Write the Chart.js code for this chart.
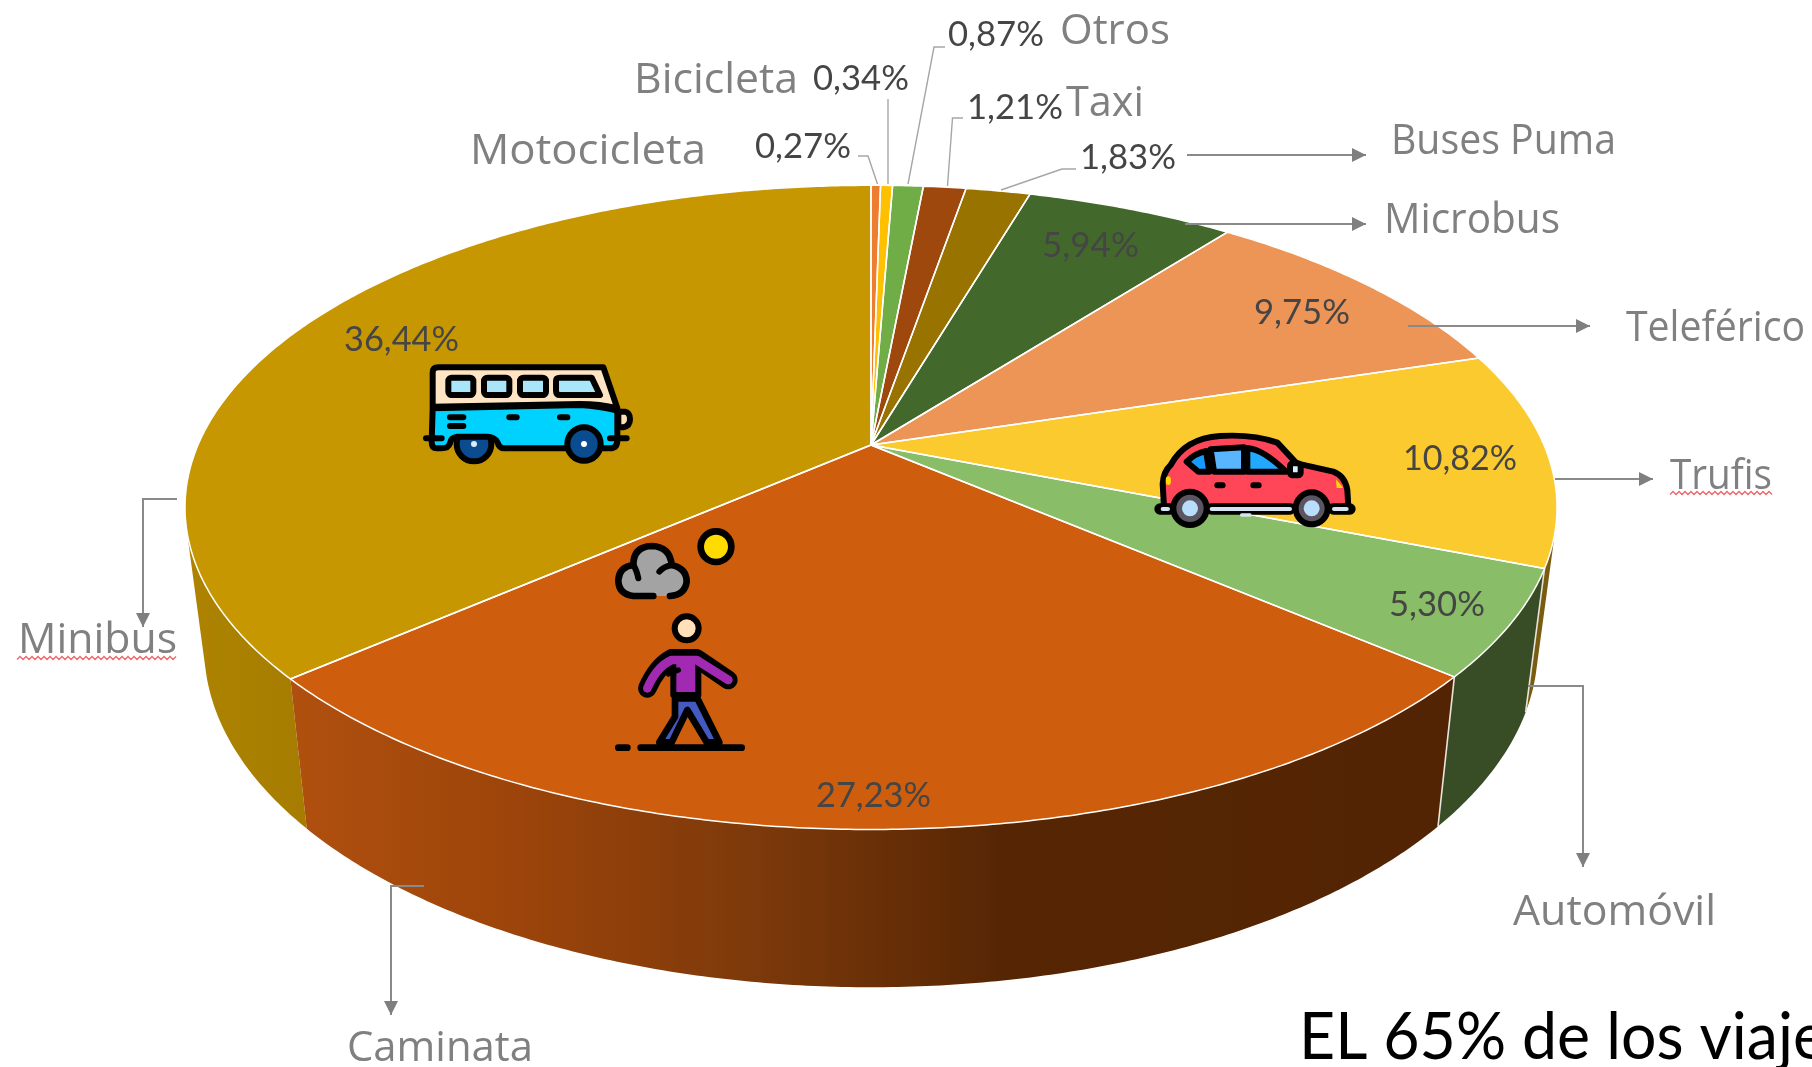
<!DOCTYPE html>
<html lang="es"><head><meta charset="utf-8"><title>Modos de transporte</title>
<script src="https://cdn.jsdelivr.net/npm/chart.js@4/dist/chart.umd.min.js"></script>
<style>
html,body{margin:0;padding:0;background:#fff;overflow:hidden;width:1812px;height:1067px}
#wrap{position:relative;width:1812px;height:1067px;overflow:hidden}
canvas{position:absolute;left:0;top:0}
svg{position:absolute;overflow:visible}
</style></head><body>
<div id="wrap">
<canvas id="c" width="1812" height="1067"></canvas>
<!-- bus -->
<svg style="left:400px;top:340px" width="280" height="140" viewBox="0 0 840 420" stroke-linejoin="round" stroke-linecap="round">
 <g stroke="#000" stroke-width="18">
  <circle cx="222" cy="312" r="52" fill="#0b4c90"/>
  <path d="M655 215H675Q690 218 690 238Q690 258 670 262H655Z" fill="#ffe1b5"/>
  <path d="M98 200V98Q98 82 115 82H610L652 205Q600 192 540 192L98 200Z" fill="#ffe5c4"/>
  <path d="M98 205L540 195Q600 198 652 212V300Q652 325 630 325H312Q298 325 292 306Q282 290 262 290H172Q152 292 150 310Q145 325 125 325H110Q95 325 95 305Z" fill="#00d2ff"/>
  <rect x="145" y="113" width="75" height="52" rx="10" fill="#a9e6fa"/>
  <rect x="252" y="113" width="76" height="52" rx="10" fill="#a9e6fa"/>
  <rect x="360" y="113" width="78" height="52" rx="10" fill="#a9e6fa"/>
  <path d="M468 123Q468 113 480 113H575L600 165H480Q468 165 468 152Z" fill="#a9e6fa"/>
  <circle cx="552" cy="312" r="50" fill="#0b4c90"/>
  <path d="M150 232H190M150 258H190M328 232H350M480 232H502M78 295H125M630 295H680" fill="none"/>
 </g>
 <circle cx="222" cy="312" r="9" fill="#dfeef5"/><circle cx="552" cy="312" r="9" fill="#fff"/>
</svg>
<!-- car -->
<svg style="left:1140px;top:410px" width="230" height="130" viewBox="0 0 690 390" stroke-linejoin="round" stroke-linecap="round">
 <g stroke="#000" stroke-width="18">
  <path d="M72 290L68 222Q70 185 92 165Q135 85 240 78Q340 72 412 98L470 160L580 185Q615 198 622 240L625 290Z" fill="#ff4658"/>
  <path d="M140 155Q165 130 198 123L208 185H175Z" fill="#159bff"/>
  <path d="M212 118L312 112V185H222Z" fill="#5ab5ff"/>
  <path d="M322 114Q370 118 438 185H322Z" fill="#22a8ff"/>
  <path d="M60 297H90M215 297H450M580 297H630" stroke="#000" stroke-width="34" fill="none"/>
  <circle cx="150" cy="295" r="50" fill="#5a5560"/>
  <circle cx="515" cy="295" r="48" fill="#5a5560"/>
  <rect x="450" y="160" width="32" height="36" rx="8" fill="#dcefff"/>
  <path d="M232 226H248M340 226H356" fill="none"/>
 </g>
 <path d="M215 297H450M582 297H620M68 297H84" stroke="#d6e3f0" stroke-width="12" fill="none"/>
 <path d="M305 315H330" stroke="#d6e3f0" stroke-width="10" fill="none"/>
 <circle cx="150" cy="295" r="24" fill="#b9defb"/><circle cx="515" cy="295" r="24" fill="#b9defb"/>
 <ellipse cx="85" cy="212" rx="8" ry="13" fill="#ffd800"/>
 <path d="M588 208L610 234H590Z" fill="#ffd800"/>
</svg>
<!-- walker -->
<svg style="left:590px;top:510px" width="200" height="260" viewBox="0 0 600 780" stroke-linejoin="round" stroke-linecap="round" fill="none">
 <circle cx="378" cy="110" r="46" fill="#ffdb00" stroke="#000" stroke-width="20"/>
 <path d="M190 258H130Q85 252 85 210Q88 170 130 165Q130 110 185 108Q240 110 245 165Q290 175 290 215Q285 255 240 258" fill="#a3a3a3" stroke="#000" stroke-width="20"/>
 <path d="M130 165Q140 180 145 205M245 165Q220 170 208 185" stroke="#000" stroke-width="18"/>
 <circle cx="290" cy="355" r="36" fill="#ffe0b8" stroke="#000" stroke-width="18"/>
 <path d="M255 565H322L388 697H350L292 600L245 697H208L255 620Z" fill="#4459c2" stroke="#000" stroke-width="20"/>
 <path d="M172 535Q200 470 245 445H320L415 510" stroke="#000" stroke-width="56"/>
 <path d="M250 445H325V555H250Z" fill="#a22ab3" stroke="#000" stroke-width="18"/>
 <path d="M172 535Q200 470 245 450H320L415 510" stroke="#a22ab3" stroke-width="26"/>
 <path d="M265 480L235 492" stroke="#000" stroke-width="16"/>
 <path d="M152 713H455M85 713H112" stroke="#000" stroke-width="20"/>
</svg>
</div>
<script>
// ---- data ----
const categories = ['Motocicleta','Bicicleta','Otros','Taxi','Buses Puma','Microbus','Teleférico','Trufis','Automóvil','Caminata','Minibus'];
const shares = [0.27,0.34,0.87,1.21,1.83,5.94,9.75,10.82,5.30,27.23,36.44];
const sliceColors = ['#ed7d31','#ffc000','#70ad47','#9e480e','#997300','#43682b','#ed9457','#fbca2f','#8abd67','#cf5d0e','#c69700'];
const note = 'EL 65% de los viaje';

// ---- styling of the drawing (not data) ----
const wallColors = [null,null,null,null,null,null,null,[[0,'#7a5c10']],[[0,'#384d26']],
  [[290,'#b0500f'],[520,'#9c440a'],[760,'#7c390a'],[1000,'#562604'],[1440,'#532403']],
  [[185,'#ae8300'],[300,'#a67d00']]];
const wallOrder = [0,1,2,3,4,5,6,7,8,10,9];
// name: left, baseline, width  /  value: left, baseline, width
const namePos = [[470,164,236],[634,93,164],[1060,44,110],[1066,116,78],[1391,154,225],[1384,233,176],[1626,341,179],[1670,489,102],[1513,925,203],[347,1061,186],[18,653,159]];
const valuePos = [[755,158,96],[813,90,96],[948,46,96],[967,119,96],[1080,169,96],[1042,257,97],[1254,324,96],[1403,470,114],[1389,616,96],[816,807,115],[344,351,115]];
const thinLeaders = [[[858,156],[868,156],[877.5,184]],[[888,99],[888,184]],[[945,47],[934,47],[908,184]],[[963,118],[952.5,118],[947.5,186]],[[1076,169],[1062,169],[1001,190]]];
const arrows = [[[1187,155],[1366,155]],[[1185,224],[1366,224]],[[1408,326],[1590,326]],[[1555,479],[1653,479]],[[1528,686],[1583,686],[1583,867]],[[177,499],[143,499],[143,627]],[[424,886],[391,886],[391,1015]]];
const squiggles = [[1670,1772,493],[17,178,658]];

const KX = 673/445, KY = 310/445, PERSP = 0.1937; // top-disc perspective relative to the chart radius
function projector(arc){
  return function(theta, bottom){
    const u = Math.cos(theta), v = Math.sin(theta), w = 1 - PERSP*v;
    const dx = arc.outerRadius*KX*u/w, dy = arc.outerRadius*KY*v/w;
    return bottom ? [arc.x + 0.972*dx, arc.y + 1.054*dy + 137] : [arc.x + dx, arc.y + dy];
  };
}
function samples(a0,a1){const n=Math.max(3,Math.ceil((a1-a0)*180/Math.PI*2)),o=[];for(let i=0;i<=n;i++)o.push(a0+(a1-a0)*i/n);return o;}
function fitText(ctx,t,x,y,width,font,color){
  ctx.save();ctx.font=font;ctx.fillStyle=color;ctx.textAlign='left';ctx.textBaseline='alphabetic';
  const m=ctx.measureText(t).width;ctx.translate(x,y);ctx.scale(width/m,1);ctx.fillText(t,0,0);ctx.restore();
}
function poly(ctx,pts){ctx.beginPath();pts.forEach((p,i)=>i?ctx.lineTo(p[0],p[1]):ctx.moveTo(p[0],p[1]));}
function area(q){let s=0;q.forEach((p,i)=>{const n=q[(i+1)%q.length];s+=p[0]*n[1]-n[0]*p[1];});return s;}

const pie3d = {
  id:'pie3d',
  beforeDatasetsDraw(chart){
    const ctx = chart.ctx, arcs = chart.getDatasetMeta(0).data;
    const P = projector(arcs[0]);
    ctx.save();
    // walls: one path of same-orientation quads, so seams vanish and silhouette tangents stay closed
    wallOrder.forEach(i=>{
      const a=arcs[i], s=samples(a.startAngle,a.endAngle);
      let fill=a.options.backgroundColor;
      const st=wallColors[i];
      if(st){ if(st.length>1){const g=ctx.createLinearGradient(st[0][0],0,st[st.length-1][0],0);
          st.forEach(c=>g.addColorStop((c[0]-st[0][0])/(st[st.length-1][0]-st[0][0]),c[1]));fill=g;} else fill=st[0][1]; }
      ctx.beginPath();
      for(let k=0;k<s.length-1;k++){
        let q=[P(s[k],false),P(s[k+1],false),P(s[k+1],true),P(s[k],true)];
        if(area(q)<0) q=q.reverse();
        q.forEach((p,j)=>j?ctx.lineTo(p[0],p[1]):ctx.moveTo(p[0],p[1]));ctx.closePath();
      }
      ctx.fillStyle=fill;ctx.fill('nonzero');
      if(i===9||i===8){ctx.strokeStyle='#e9e4dc';ctx.lineWidth=1.6;poly(ctx,[P(a.startAngle,false),P(a.startAngle,true)]);ctx.stroke();}
    });
    // top face
    arcs.forEach(a=>{
      const pts=[[a.x,a.y]].concat(samples(a.startAngle,a.endAngle).map(t=>P(t,false)));
      poly(ctx,pts);ctx.closePath();ctx.fillStyle=a.options.backgroundColor;ctx.fill();
    });
    arcs.forEach(a=>{
      const pts=[[a.x,a.y]].concat(samples(a.startAngle,a.endAngle).map(t=>P(t,false)));
      poly(ctx,pts);ctx.closePath();ctx.strokeStyle='#fff';ctx.lineWidth=1.5;ctx.lineJoin='round';ctx.stroke();
    });
    ctx.restore();
    return false;
  },
  afterDraw(chart){
    const ctx=chart.ctx;
    ctx.save();
    ctx.lineJoin='miter';
    thinLeaders.forEach(l=>{poly(ctx,l);ctx.strokeStyle='#a6a6a6';ctx.lineWidth=1.4;ctx.stroke();});
    arrows.forEach(l=>{
      poly(ctx,l);ctx.strokeStyle='#8a8a8a';ctx.lineWidth=2;ctx.stroke();
      const e=l[l.length-1], b=l[l.length-2], L=Math.hypot(e[0]-b[0],e[1]-b[1]), ux=(e[0]-b[0])/L, uy=(e[1]-b[1])/L;
      ctx.beginPath();ctx.moveTo(e[0],e[1]);
      ctx.lineTo(e[0]-14*ux-7*uy,e[1]-14*uy+7*ux);ctx.lineTo(e[0]-14*ux+7*uy,e[1]-14*uy-7*ux);ctx.closePath();
      ctx.fillStyle='#7f7f7f';ctx.fill();
    });
    squiggles.forEach(q=>{
      ctx.beginPath();let up=false;
      for(let x=q[0];x<=q[1];x+=3){const y=q[2]+(up?-1.5:1.5);x===q[0]?ctx.moveTo(x,y):ctx.lineTo(x,y);up=!up;}
      ctx.strokeStyle='#f0656b';ctx.lineWidth=1.3;ctx.stroke();
    });
    categories.forEach((n,i)=>{
      fitText(ctx,n,namePos[i][0],namePos[i][1],namePos[i][2],'42px "Open Sans"','#808080');
      const v=shares[i].toFixed(2).replace('.',',')+'%';
      fitText(ctx,v,valuePos[i][0],valuePos[i][1],valuePos[i][2],'34px Lato','#454545');
    });
    fitText(ctx,note,1299,1059,527,'66px Lato','#000');
    ctx.restore();
  }
};

new Chart(document.getElementById('c'),{
  type:'pie',
  data:{labels:categories,datasets:[{data:shares,backgroundColor:sliceColors,borderWidth:0}]},
  options:{
    responsive:false,animation:false,rotation:0,
    layout:{padding:{left:0,top:0,right:70,bottom:177}},
    plugins:{legend:{display:false},tooltip:{enabled:false},title:{display:false}}
  },
  plugins:[pie3d]
});
</script>
</body></html>
